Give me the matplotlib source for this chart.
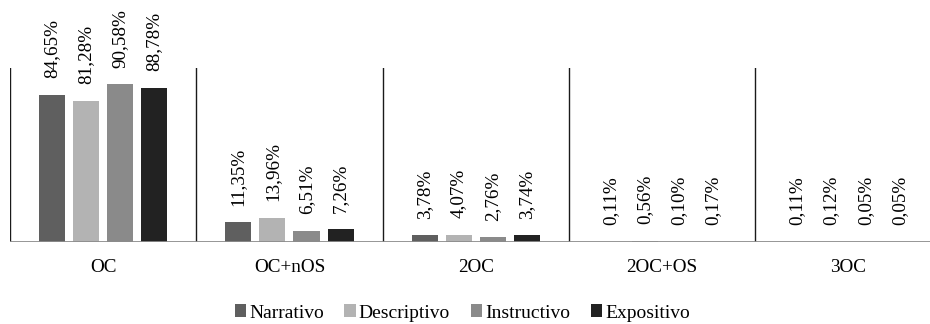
import matplotlib
matplotlib.use("Agg")
import matplotlib.pyplot as plt
import numpy as np
from matplotlib.patches import Patch

# Share of each text type per coordination pattern (%)
categories = ["OC", "OC+nOS", "2OC", "2OC+OS", "3OC"]
series_names = ["Narrativo", "Descriptivo", "Instructivo", "Expositivo"]
narrativo = [84.65, 11.35, 3.78, 0.11, 0.11]
descriptivo = [81.28, 13.96, 4.07, 0.56, 0.12]
instructivo = [90.58, 6.51, 2.76, 0.10, 0.05]
expositivo = [88.78, 7.26, 3.74, 0.17, 0.05]

colors = ["#5f5f5f", "#b3b3b3", "#8a8a8a", "#222222"]

plt.rcParams["font.family"] = ["Liberation Serif", "DejaVu Serif"]

fig = plt.figure(figsize=(9.3, 3.24), dpi=100)
ax = fig.add_axes([10 / 930, 82 / 324, 931.5 / 930, 174 / 324])

x = np.arange(len(categories)) + 0.5
step = 0.183
width = 0.14
all_series = [narrativo, descriptivo, instructivo, expositivo]

for k, (vals, col) in enumerate(zip(all_series, colors)):
    pos = x + (k - 1.5) * step
    ax.bar(pos, vals, width=width, color=col, zorder=2)
    for px, v in zip(pos, vals):
        label = f"{v:.2f}%".replace(".", ",")
        ax.annotate(label, (px, v), xytext=(0, 12), textcoords="offset points",
                    rotation=90, ha="center", va="bottom", fontsize=13.8)

# group separators and baseline
for i in range(len(categories) + 1):
    ax.axvline(i, color="#1a1a1a", lw=1.0, zorder=1)
ax.axhline(0, color="#8c8c8c", lw=2.0, zorder=3)

ax.set_xlim(0, len(categories))
ax.set_ylim(0, 100)
ax.set_xticks(x)
ax.set_xticklabels(categories, fontsize=13.8)
ax.tick_params(axis="x", length=0, pad=12)
ax.set_yticks([])
for s in ax.spines.values():
    s.set_visible(False)

handles = [Patch(facecolor=c, edgecolor="none") for c in colors]
fig.legend(handles, series_names, loc="center", bbox_to_anchor=(0.497, 1 - 313 / 324),
           ncol=4, frameon=False, fontsize=14, handlelength=0.6, handleheight=0.6,
           handletextpad=0.15, columnspacing=1.05)

fig.savefig("out.png", dpi=100)
